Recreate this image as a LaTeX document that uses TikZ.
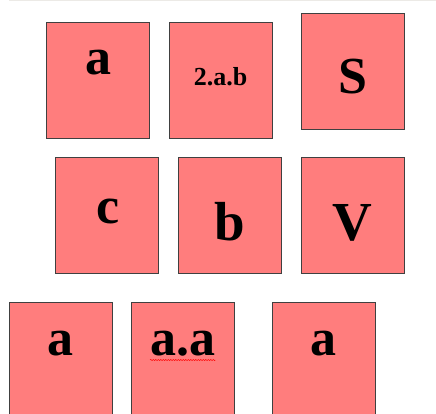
\documentclass[tikz,border=0pt]{standalone}
\usepackage{fontspec}
\setmainfont{Liberation Serif}
\definecolor{boxred}{RGB}{255,125,125}
\definecolor{boxedge}{RGB}{64,64,64}
\definecolor{rulegray}{RGB}{236,234,230}
\usetikzlibrary{positioning,decorations.pathmorphing}

\begin{document}
\begin{tikzpicture}[
  x=1pt, y=-1pt,
  node distance=19pt,
  box/.style={rectangle, draw=boxedge, fill=boxred, line width=0.8pt, minimum width=103pt, minimum height=116pt, inner sep=0pt},
  big/.style={anchor=base, inner sep=0pt, font=\fontsize{52}{52}\selectfont\bfseries},
  bigger/.style={big, font=\fontsize{55}{55}\selectfont\bfseries},
  small/.style={anchor=base, inner sep=0pt, font=\fontsize{26}{26}\selectfont\bfseries},
  squiggle/.style={red, line width=0.5pt, decorate, decoration={snake, amplitude=0.6pt, segment length=2.5pt}}
]
  \clip (0,0) rectangle (436,414);
  \coordinate (rulel) at (9,0.6);
  \coordinate (ruler) at (436,0.6);
  \draw[rulegray, line width=1.2pt] (rulel) -- (ruler);
  \node[box, anchor=north west] (a1) at (46,22) {};
  \node[box, right=19pt of a1] (ab) {};
  \node[box, right=28pt of ab, yshift=9pt] (s) {};
  \node[box, anchor=north west] (c) at (55,157) {};
  \node[box, right=19pt of c] (b) {};
  \node[box, right=19pt of b] (v) {};
  \node[box, anchor=north west] (a2) at (9,302) {};
  \node[box, right=18pt of a2] (aa) {};
  \node[box, right=37pt of aa] (a3) {};
  \node[big] (ta1) at ([xshift=0.5pt, yshift=-53pt]a1.north) {a};
  \node[small] (tab) at ([yshift=-64pt]ab.north) {2.a.b};
  \node[big] (ts) at ([yshift=-81pt]s.north) {S};
  \node[big] (tc) at ([xshift=1.5pt, yshift=-66pt]c.north) {c};
  \node[bigger] (tb) at ([yshift=-83pt]b.north) {b};
  \node[bigger] (tv) at ([yshift=-83pt]v.north) {V};
  \node[big] (ta2) at ([yshift=-53pt]a2.north) {a};
  \node[big] (taa) at ([yshift=-53pt]aa.north) {a.a};
  \node[big] (ta3) at ([yshift=-53pt]a3.north) {a};
  \draw[squiggle] ([yshift=-5pt]taa.base west) -- ([yshift=-5pt]taa.base east);
\end{tikzpicture}
\end{document}
